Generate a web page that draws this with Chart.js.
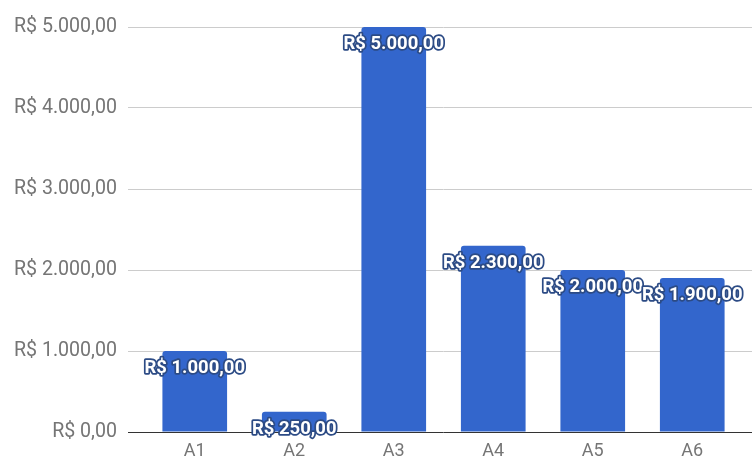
<!DOCTYPE html>
<html>
<head>
<meta charset="utf-8">
<script src="https://cdn.jsdelivr.net/npm/chart.js@4/dist/chart.umd.min.js"></script>
<style>
  html, body { margin: 0; padding: 0; background: #ffffff; }
  #wrap { width: 752px; height: 460px; }
</style>
</head>
<body>
<div id="wrap"><canvas id="c" width="752" height="460"></canvas></div>
<script>
// Categories and amounts (R$)
const categories = ['A1', 'A2', 'A3', 'A4', 'A5', 'A6'];
const amounts = [1000, 250, 5000, 2300, 2000, 1900];
const yTickValues = [0, 1000, 2000, 3000, 4000, 5000];
const yTickLabels = ['R$ 0,00', 'R$ 1.000,00', 'R$ 2.000,00', 'R$ 3.000,00', 'R$ 4.000,00', 'R$ 5.000,00'];

// Brazilian currency formatting: R$ 1.234,56
function formatBRL(v) {
  const parts = v.toFixed(2).split('.');
  const intPart = parts[0].replace(/\B(?=(\d{3})+(?!\d))/g, '.');
  return 'R$ ' + intPart + ',' + parts[1];
}

const gridColor = (ctx) => (ctx.tick && ctx.tick.value === 0) ? '#333333' : '#cccccc';

// Value labels with an outline, centered just below each bar top
const valueLabels = {
  id: 'valueLabels',
  afterDatasetsDraw(chart) {
    const ctx = chart.ctx;
    const meta = chart.getDatasetMeta(0);
    ctx.save();
    ctx.font = 'bold 18.5px Roboto';
    ctx.textAlign = 'center';
    ctx.textBaseline = 'middle';
    ctx.lineJoin = 'round';
    meta.data.forEach((bar, i) => {
      const text = formatBRL(amounts[i]);
      const y = bar.y + 17.5;
      ctx.lineWidth = 3.5;
      ctx.strokeStyle = '#2c4b85';
      ctx.strokeText(text, bar.x, y);
      ctx.fillStyle = '#ffffff';
      ctx.fillText(text, bar.x, y);
    });
    ctx.restore();
  }
};

new Chart(document.getElementById('c'), {
  type: 'bar',
  data: {
    labels: categories,
    datasets: [{
      data: amounts,
      backgroundColor: '#3366cc',
      borderWidth: 0,
      borderRadius: { topLeft: 3, topRight: 3, bottomLeft: 0, bottomRight: 0 },
      borderSkipped: false,
      categoryPercentage: 0.65,
      barPercentage: 1.0
    }]
  },
  options: {
    responsive: false,
    animation: false,
    devicePixelRatio: 1,
    layout: { padding: { top: 27, right: 0, bottom: 0, left: 0 } },
    plugins: {
      legend: { display: false },
      tooltip: { enabled: false }
    },
    scales: {
      x: {
        grid: { display: false, drawTicks: false },
        border: { display: false },
        ticks: {
          color: '#757575',
          font: { family: 'Roboto', size: 18 },
          padding: 9
        },
        afterFit(s) { s.height = 28; }
      },
      y: {
        position: 'left',
        min: 0,
        max: 5000,
        afterBuildTicks(s) { s.ticks = yTickValues.map(v => ({ value: v })); },
        grid: { color: gridColor, tickColor: gridColor, tickLength: 17, lineWidth: 1 },
        border: { display: false },
        ticks: {
          color: '#757575',
          font: { family: 'Roboto', size: 19.6 },
          padding: 11,
          callback: (v) => yTickLabels[yTickValues.indexOf(v)]
        },
        afterFit(s) { s.width = 145; }
      },
      yRight: {
        position: 'right',
        min: 0,
        max: 5000,
        afterBuildTicks(s) { s.ticks = yTickValues.map(v => ({ value: v })); },
        grid: { drawOnChartArea: false, color: gridColor, tickColor: gridColor, tickLength: 10 },
        border: { display: false },
        ticks: { display: false },
        afterFit(s) { s.width = 10; }
      }
    }
  },
  plugins: [valueLabels]
});
</script>
</body>
</html>
